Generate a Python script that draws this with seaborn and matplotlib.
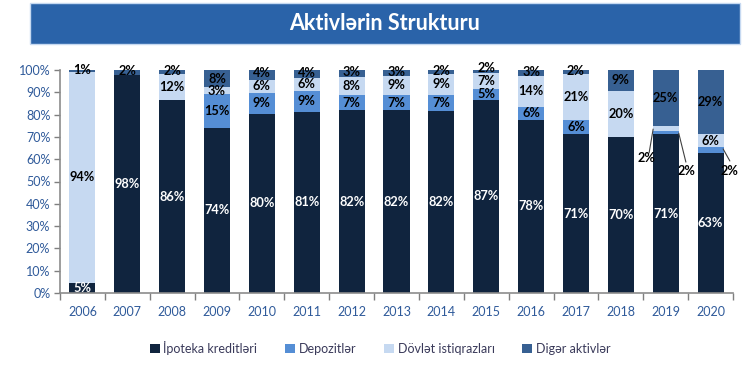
import matplotlib
matplotlib.use("Agg")
import matplotlib.pyplot as plt
import seaborn as sns
import numpy as np
import pandas as pd
from matplotlib.patches import Rectangle, Patch

years = ["2006", "2007", "2008", "2009", "2010", "2011", "2012", "2013",
         "2014", "2015", "2016", "2017", "2018", "2019", "2020"]
ipoteka = [4.7, 97.8, 86.5, 74.1, 80.4, 81.3, 82.0, 82.0, 81.6, 86.6, 77.6, 71.3, 70.1, 71.2, 62.9]
depozit = [0.0, 0.0, 0.0, 15.2, 9.3, 9.4, 6.8, 6.8, 7.2, 5.0, 5.9, 6.3, 0.0, 1.6, 2.4]
dovlet = [94.3, 0.0, 11.7, 2.9, 6.0, 5.7, 8.1, 8.6, 9.4, 6.9, 13.9, 20.6, 20.5, 2.3, 6.0]
diger = [1.0, 2.2, 1.8, 7.8, 4.3, 3.6, 3.1, 2.6, 1.8, 1.5, 2.6, 1.8, 9.4, 24.9, 28.7]

series_names = ["İpoteka kreditləri", "Depozitlər", "Dövlət istiqrazları", "Digər aktivlər"]
colors = ["#10243E", "#558ED5", "#C6D9F1", "#376092"]
label_colors = ["white", "black", "black", "black"]
title = "Aktivlərin Strukturu"

FONT = ["Lato", "DejaVu Sans"]
sns.set_theme(style="white")
plt.rcParams["font.family"] = FONT

layers = np.array([ipoteka, depozit, dovlet, diger])
cum = np.cumsum(layers, axis=0)

fig = plt.figure(figsize=(7.5, 3.68), dpi=100)
ax = fig.add_axes([60 / 750, 1 - 293 / 368, (733 - 60) / 750, (293 - 70) / 368])

# stacked by overlapping cumulative bars, top layer first
for k in range(3, -1, -1):
    df = pd.DataFrame({"year": years, "val": cum[k]})
    sns.barplot(data=df, x="year", y="val", color=colors[k], ax=ax,
                width=0.58, saturation=1, linewidth=0, errorbar=None)

ax.set_xlim(-0.5, len(years) - 0.5)
ax.set_ylim(0, 100)
ax.set_yticks(np.arange(0, 101, 10))
ax.set_yticklabels([f"{v}%" for v in range(0, 101, 10)])
ax.set_xlabel("")
ax.set_ylabel("")
tick_color = "#2F5A9A"
ax.tick_params(axis="y", colors="#7F7F7F", labelcolor=tick_color, labelsize=9,
               length=4, width=1, direction="out", left=True, pad=3)
ax.tick_params(axis="x", labelcolor=tick_color, labelsize=9, length=0, pad=9)
# boundary tick marks on x axis
ax.set_xticks(np.arange(-0.5, len(years), 1.0), minor=True)
ax.tick_params(axis="x", which="minor", length=5, width=1, color="#7F7F7F", bottom=True)
for s in ["top", "right"]:
    ax.spines[s].set_visible(False)
for s in ["left", "bottom"]:
    ax.spines[s].set_color("#8C8C8C")
    ax.spines[s].set_linewidth(1.2)

LBL = 9.2
# data labels
special = {(13, 1), (13, 2), (14, 1)}
for i in range(len(years)):
    for k in range(4):
        v = layers[k][i]
        if v <= 0 or (i, k) in special:
            continue
        yc = cum[k][i] - v / 2
        if k == 3 and v < 5:
            yc = cum[k][i] - v / 2 + 0.6
        if i == 9 and k == 3:
            yc = cum[k][i] + 0.8
        ax.text(i, yc, f"{v:.0f}%", ha="center", va="center", fontsize=LBL,
                fontweight="bold", color=label_colors[k], zorder=5)

# leader-line labels
leaders = [
    (13, 2, (12.72, 73.5), (12.63, 62.8), (12.58, 60.5)),
    (13, 1, (13.29, 71.7), (13.45, 58.7), (13.47, 54.7)),
    (14, 1, (14.28, 64.6), (14.43, 59.2), (14.43, 54.7)),
]
for i, k, p0, p1, pt in leaders:
    ax.plot([p0[0], p1[0]], [p0[1], p1[1]], color="#404040", lw=0.8,
            clip_on=False, zorder=6)
    ax.text(pt[0], pt[1], f"{layers[k][i]:.0f}%", ha="center", va="center",
            fontsize=LBL, fontweight="bold", color="black", zorder=6,
            clip_on=False)

# title banner
fig.patches.append(Rectangle((30 / 750, 1 - 44 / 368), (740 - 30) / 750, 41 / 368,
                             transform=fig.transFigure, facecolor="#2A63A9",
                             edgecolor="#C6D9F1", linewidth=1, zorder=0))
fig.text(385 / 750, 1 - 23.5 / 368, title, ha="center", va="center",
         fontsize=15.5, fontweight="bold", color="white")

# legend
handles = [Patch(facecolor=c, edgecolor="none") for c in colors]
fig.legend(handles, series_names, loc="center", bbox_to_anchor=(380 / 750, 1 - 348 / 368),
           ncol=4, frameon=False, fontsize=9, handlelength=0.8, handleheight=0.8,
           handletextpad=0.3, columnspacing=2.2, labelcolor="#3A3A5A")

fig.savefig("out.png", dpi=100)
